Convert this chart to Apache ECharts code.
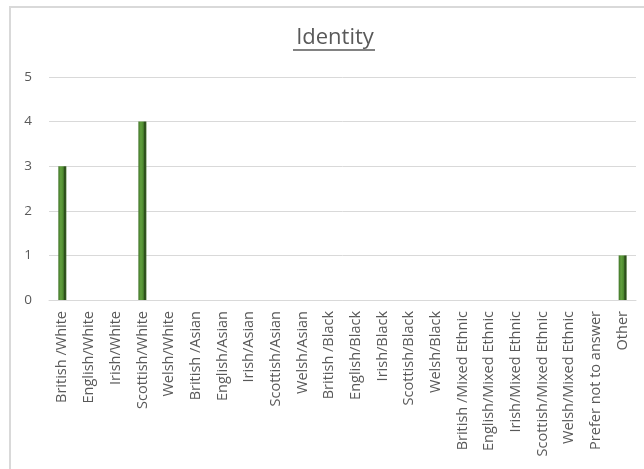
<!DOCTYPE html>
<html>
<head>
<meta charset="utf-8">
<script src="https://cdn.jsdelivr.net/npm/echarts@6/dist/echarts.min.js"></script>
<style>
  html, body { margin: 0; padding: 0; background: #fff; }
  #main { width: 644px; height: 469px; }
</style>
</head>
<body>
<div id="main"></div>
<script>
// categories and counts
const categories = [
  'British /White', 'English/White', 'Irish/White', 'Scottish/White', 'Welsh/White',
  'British /Asian', 'English/Asian', 'Irish/Asian', 'Scottish/Asian', 'Welsh/Asian',
  'British /Black', 'English/Black', 'Irish/Black', 'Scottish/Black', 'Welsh/Black',
  'British /Mixed Ethnic', 'English/Mixed Ethnic', 'Irish/Mixed Ethnic',
  'Scottish/Mixed Ethnic', 'Welsh/Mixed Ethnic', 'Prefer not to answer', 'Other'
];
const counts = [3, 0, 0, 4, 0, 0, 0, 0, 0, 0, 0, 0, 0, 0, 0, 0, 0, 0, 0, 0, 0, 1];
const yTicks = [0, 1, 2, 3, 4, 5];

const font = '"Open Sans", "Liberation Sans", sans-serif';

// bar fill, dark edges like the original
const barFill = new echarts.graphic.LinearGradient(0, 0, 1, 0, [
  { offset: 0, color: '#3f7327' },
  { offset: 0.3, color: '#62a03e' },
  { offset: 0.6, color: '#4e8a30' },
  { offset: 0.8, color: '#284518' },
  { offset: 1, color: '#3b6626' }
]);

const chart = echarts.init(document.getElementById('main'));

const option = {
  animation: false,
  backgroundColor: '#fff',
  title: {
    text: 'Identity',
    left: 330,
    top: 22,
    textAlign: 'center',
    textStyle: { fontFamily: font, fontSize: 22, fontWeight: 'normal', color: '#595959' }
  },
  graphic: [
    // outer frame
    { type: 'rect', shape: { x: 10, y: 7, width: 700, height: 520 },
      style: { fill: 'none', stroke: '#d9d9d9', lineWidth: 2 } },
    // title underline
    { type: 'line', shape: { x1: 293, y1: 50, x2: 375, y2: 50 },
      style: { stroke: '#595959', lineWidth: 1.5 } }
  ],
  grid: { left: 49, right: 8, top: 77, bottom: 169 },
  xAxis: {
    type: 'category',
    data: categories,
    axisLine: { lineStyle: { color: '#d9d9d9' } },
    axisTick: { show: false },
    axisLabel: {
      interval: 0,
      rotate: 90,
      margin: 11,
      fontFamily: font,
      fontSize: 14.5,
      color: '#595959'
    }
  },
  yAxis: {
    type: 'value',
    min: yTicks[0],
    max: yTicks[yTicks.length - 1],
    interval: 1,
    axisLine: { show: false },
    axisTick: { show: false },
    splitLine: { lineStyle: { color: '#d9d9d9' } },
    axisLabel: { fontFamily: font, fontSize: 13.5, color: '#595959', margin: 17 }
  },
  series: [
    {
      type: 'bar',
      data: counts,
      barWidth: 8,
      itemStyle: { color: barFill }
    }
  ]
};

chart.setOption(option);
</script>
</body>
</html>
